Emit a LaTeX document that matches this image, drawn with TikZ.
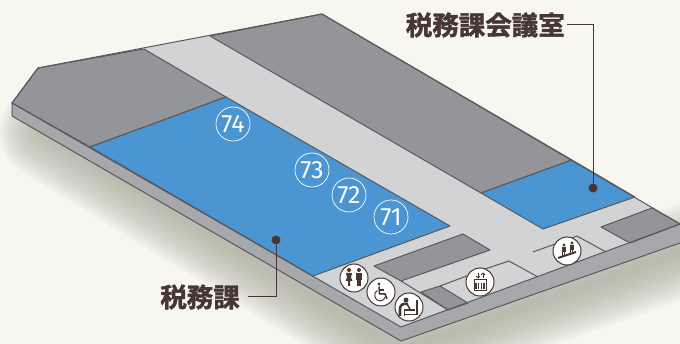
\documentclass[tikz,border=0pt]{standalone}
\usepackage{fontspec}
\setmainfont{Fira Sans}
\newfontfamily\cjk[FakeBold=1.5]{Noto Sans CJK JP Bold}
\usepackage{tikz}
\usetikzlibrary{calc,positioning}
\definecolor{paper}{HTML}{F7F7F0}
\definecolor{floorc}{HTML}{D2D3D5}
\definecolor{roomc}{HTML}{939598}
\definecolor{bluec}{HTML}{4A95D2}
\definecolor{sidec}{HTML}{A7A8AC}
\definecolor{linec}{HTML}{58595B}
\definecolor{inkc}{HTML}{473733}
\definecolor{shadec}{HTML}{A9A99C}
\tikzset{wall/.style = {draw=linec,line width=1pt,line join=round}}
\tikzset{numcircle/.style = {shape=circle,draw=white,line width=0.7pt,inner sep=0pt,minimum size=34pt,text=white,font=\fontsize{25}{25}\selectfont}}
\tikzset{iconcircle/.style = {shape=circle,draw=inkc,fill=white,line width=1pt,inner sep=0pt,minimum size=28pt}}
\tikzset{dotnode/.style = {shape=circle,fill=inkc,inner sep=0pt,minimum size=9pt}}
\tikzset{roomlabel/.style = {text=inkc,inner sep=0pt,font=\cjk\fontsize{26.5}{26.5}\selectfont}}
\tikzset{leader/.style = {draw=inkc,line width=1pt}}
\begin{document}
\begin{tikzpicture}[x=1pt,y=-1pt]
\useasboundingbox (0,0) rectangle (680,344);
\fill[paper] (0,0) rectangle (680,344);
% shadow
\clip (0,0) rectangle (680,344);
\foreach \w in {92,87,...,4}
  \draw[shadec,opacity=0.065,line width=\w pt,line join=round,line cap=round] (45,132) -- (400,350) -- (700,245);
% slab
\fill[sidec] (12,103) -- (12,116) -- (401,341) -- (680,243) -- (680,224) -- (401,327) -- cycle;
\draw[wall] (12,103) -- (12,116) -- (401,341) -- (680,243);
\fill[floorc] (12,103) -- (38,68) -- (322,14) -- (680,224) -- (401,327) -- cycle;
% rooms
\draw[wall,fill=roomc] (38,68) -- (144,49) -- (226,97) -- (90,147) -- (12,103) -- cycle;
\draw[wall,fill=roomc] (210,36) -- (322,14) -- (572,160) -- (481,193) -- cycle;
\draw[wall,fill=bluec] (90,147) -- (226,97) -- (450,226) -- (313,276) -- cycle;
\draw[wall,fill=bluec] (481,193) -- (572,160) -- (635,197) -- (543,229) -- cycle;
\draw[wall,fill=roomc] (374,266) -- (463,234) -- (490,250) -- (401,281) -- cycle;
\draw[wall,fill=roomc] (421,292) -- (440,286) -- (468,303) -- (448,310) -- cycle;
\draw[wall,fill=roomc] (601,227) -- (652,208) -- (680,224) -- (630,243) -- cycle;
% corridors
\draw[wall] (401,281) -- (448,310);
\draw[wall] (440,286) -- (488,268);
\draw[wall] (488,268) -- (509,261) -- (538,277);
\draw[wall] (533,252) -- (577,236) -- (606,252);
% outline
\draw[wall] (12,103) -- (38,68) -- (322,14) -- (680,224) -- (401,327) -- cycle;
% numbers
\node[numcircle] (n74) at (233,124) {74};
\node[numcircle] (n73) at (312,170) {73};
\node[numcircle] (n72) at (349,195) {72};
\node[numcircle] (n71) at (391,217) {71};
% icons
\node[iconcircle] (wc) at (354,278) {};
\node[iconcircle] (access) at (381,292) {};
\node[iconcircle] (baby) at (409,307) {};
\node[iconcircle] (lift) at (480,282) {};
\node[iconcircle] (stairs) at (567,251) {};
\begin{scope}[shift={(wc.center)},inkc]
\fill (-5,-8) circle (2);
\fill (-8,-5) -- (-2,-5) -- (-3,-0.5) -- (-1.5,3) -- (-4,3) -- (-4,8) -- (-6,8) -- (-6,3) -- (-8.5,3) -- (-7,-0.5) -- cycle;
\fill (5,-8) circle (2);
\fill (2,-5) rectangle (8,2);
\fill (3,2) rectangle (4.7,8);
\fill (5.3,2) rectangle (7,8);
\end{scope}
\begin{scope}[shift={(access.center)},inkc]
\fill (-2,-8) circle (1.7);
\draw[line width=1.5pt] (-2,-5.5) -- (-1.5,2) -- (4,2) -- (6,7);
\draw[line width=1.5pt] (-1.5,-2) -- (3,-2);
\draw[line width=1pt] (-3.5,-1.5) .. controls (-8,0) and (-7,9) .. (-1,9) .. controls (2,9) and (4,7) .. (4,5);
\end{scope}
\begin{scope}[shift={(baby.center)},inkc]
\fill (-3,-7) circle (2.5);
\draw[line width=2.6pt,line join=round] (-1,-3) .. controls (-6,-4) and (-9,-2) .. (-9,2) -- (-9,9);
\draw[line width=1.6pt] (-2,-3) -- (1,2);
\draw[line width=1.6pt] (-5,3) -- (6,3);
\draw[line width=1.6pt] (-4.5,3) -- (-4.5,9);
\draw[line width=2pt] (8,-7) -- (8,8);
\draw[line width=1pt] (-4,8) -- (8,8);
\end{scope}
\begin{scope}[shift={(lift.center)},inkc]
\draw[line width=1pt] (-6,-2) rectangle (6,9);
\foreach \xx in {-4,-1.3,1.3,4}
  \draw[line width=1.5pt] (\xx,1) -- (\xx,7);
\draw[line width=1pt] (-2,-9) -- (-2,-4);
\draw[line width=1pt] (-4,-6) -- (-2,-4) -- (0,-6);
\draw[line width=1pt] (3,-4) -- (3,-9);
\draw[line width=1pt] (1,-7) -- (3,-9) -- (5,-7);
\end{scope}
\begin{scope}[shift={(stairs.center)},inkc]
\draw[line width=2pt] (-9,7) -- (9,1);
\fill (-3,-6) circle (1.7);
\fill (-5,-4) rectangle (-1.5,1);
\fill (-5,1) rectangle (-3.6,5);
\fill (-3,0) rectangle (-1.6,4);
\fill (5,-8) circle (1.7);
\fill (3,-6) rectangle (6.5,-1);
\fill (3,-1) rectangle (4.4,3);
\fill (5,-2) rectangle (6.4,2);
\end{scope}
% labels
\node[dotnode] (dota) at (276,240) {};
\node[dotnode] (dotb) at (593,188) {};
\node[roomlabel,anchor=east] (lbla) at (240,297) {税務課};
\node[roomlabel,anchor=east] (lblb) at (565,25) {税務課会議室};
\draw[leader] ([xshift=8pt]lbla.east) -| (dota);
\draw[leader] ([xshift=2pt]lblb.east) -| (dotb);
\end{tikzpicture}
\end{document}
